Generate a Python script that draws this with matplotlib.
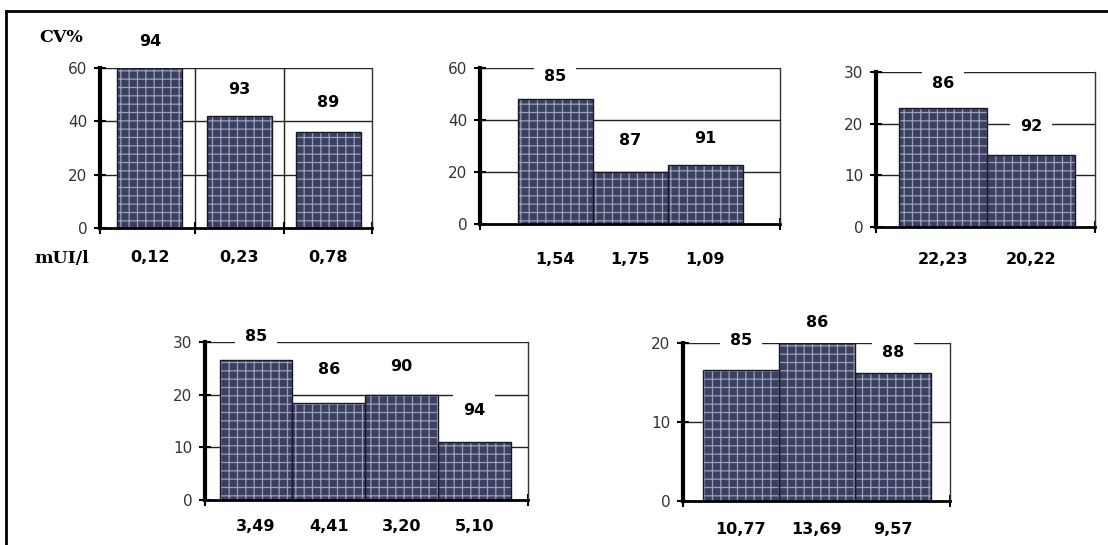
import matplotlib
matplotlib.use("Agg")
import matplotlib.pyplot as plt
from matplotlib.lines import Line2D

W, H = 1108, 545

# --- data ---
conc1 = ["0,12", "0,23", "0,78"]
cv1 = [60, 42, 36]
rec1 = ["94", "93", "89"]

conc2 = ["1,54", "1,75", "1,09"]
cv2 = [48, 20, 22.7]
rec2 = ["85", "87", "91"]

conc3 = ["22,23", "20,22"]
cv3 = [23, 14]
rec3 = ["86", "92"]

conc4 = ["3,49", "4,41", "3,20", "5,10"]
cv4 = [26.6, 18.5, 20, 11]
rec4 = ["85", "86", "90", "94"]

conc5 = ["10,77", "13,69", "9,57"]
cv5 = [16.6, 20, 16.2]
rec5 = ["85", "86", "88"]

plt.rcParams["font.family"] = ["DejaVu Sans"]
plt.rcParams["hatch.linewidth"] = 0.9

fig = plt.figure(figsize=(W / 100, H / 100), dpi=100)


def px_axes(x0, y0, x1, y1):
    return fig.add_axes([x0 / W, 1 - y1 / H, (x1 - x0) / W, (y1 - y0) / H])


def panel(rect, cats, vals, recs, ymax, yticks, xlim, width, pad, vgrid=False, offs=None):
    ax = px_axes(*rect)
    x = list(range(len(cats)))
    ax.set_xlim(*xlim)
    ax.set_ylim(0, ymax)
    for y in yticks[1:]:
        ax.axhline(y, color="#222222", lw=1.0, zorder=1)
    if vgrid:
        for i in range(len(cats) - 1):
            ax.axvline(i + 0.5, color="#222222", lw=1.0, zorder=1)
    # hatched fill, then outline
    ax.bar(x, vals, width=width, color="#3b4060", edgecolor="#9aa0b8",
           hatch="++", lw=0, zorder=2)
    ax.bar(x, vals, width=width, fill=False, edgecolor="#1a1a2a",
           lw=1.0, zorder=3)
    offs = offs or [19] * len(vals)
    for xi, v, r, o in zip(x, vals, recs, offs):
        ax.annotate(r, (xi, v), xytext=(0, o), textcoords="offset points",
                    ha="center", va="center", fontsize=11.5, fontweight="bold",
                    annotation_clip=False, zorder=5,
                    bbox=dict(boxstyle="square,pad=0.6", fc="white", ec="none"))
    ax.spines["top"].set_visible(False)
    ax.spines["left"].set_linewidth(3)
    ax.spines["bottom"].set_linewidth(2)
    ax.spines["right"].set_linewidth(1)
    ax.spines["right"].set_color("#333333")
    ax.set_yticks(yticks)
    ax.set_yticklabels([str(t) for t in yticks], color="#333333", fontsize=11)
    ax.tick_params(axis="y", direction="inout", length=8, width=1.5, pad=5)
    ax.set_xticks(x)
    ax.set_xticklabels(cats, fontsize=11.5, fontweight="bold")
    ax.tick_params(axis="x", which="major", length=0, pad=pad)
    minor = [xlim[0], xlim[1]]
    if vgrid:
        minor += [i + 0.5 for i in range(len(cats) - 1)]
    ax.set_xticks(minor, minor=True)
    ax.tick_params(axis="x", which="minor", direction="inout", length=8, width=1.5)
    return ax


ax1 = panel((100, 68, 372, 228), conc1, cv1, rec1, 60, [0, 20, 40, 60],
            (-0.56, 2.49), 0.73, 16, vgrid=True, offs=[19, 19, 21])
ax1.text(-0.143, 1.19, "CV%", transform=ax1.transAxes, fontsize=12.5,
         fontweight="bold", ha="center", va="center", family="DejaVu Serif")
ax1.text(-0.14, -0.19, "mUI/l", transform=ax1.transAxes, fontsize=12.5,
         fontweight="bold", ha="center", va="center", family="DejaVu Serif")

panel((480, 68, 780, 224), conc2, cv2, rec2, 60, [0, 20, 40, 60],
      (-1.0, 3.0), 1.0, 20, offs=[16, 23, 19])
panel((876, 72, 1095, 227), conc3, cv3, rec3, 30, [0, 10, 20, 30],
      (-0.76, 1.73), 1.0, 18, offs=[18, 20])
panel((205, 342, 528, 500), conc4, cv4, rec4, 30, [0, 10, 20, 30],
      (-0.70, 3.74), 1.0, 14, offs=[17, 24, 20, 23])
panel((683, 343, 950, 501), conc5, cv5, rec5, 20, [0, 10, 20],
      (-0.76, 2.75), 1.0, 15, offs=[21, 15, 15])

# outer frame of the scanned figure
fig.add_artist(Line2D([6 / W, 1.0], [1 - 11 / H, 1 - 11 / H], color="black", lw=2))
fig.add_artist(Line2D([6 / W, 6 / W], [1 - 11 / H, 0], color="black", lw=2))

fig.savefig("out.png", dpi=100)
